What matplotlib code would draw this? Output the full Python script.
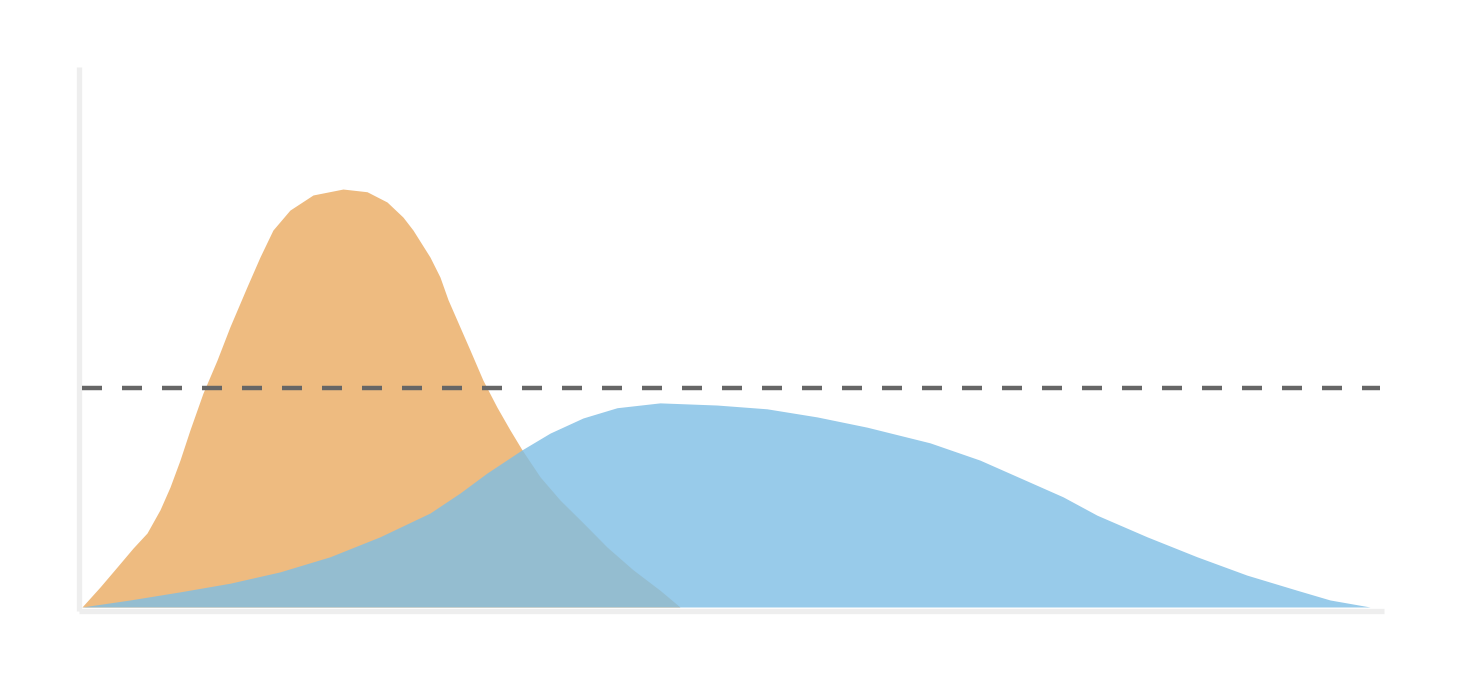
import matplotlib
matplotlib.use("Agg")
import matplotlib.pyplot as plt

# Uncontrolled outbreak (orange) – days vs. cases (% of axis height)
orange_days = [0, 1.39, 2.70, 3.93, 5.01, 6.01, 6.78, 7.55, 8.32, 9.32, 10.40, 11.40,
               12.71, 13.71, 14.71, 16.02, 17.80, 20.11, 21.96, 23.50, 24.73, 25.50,
               26.81, 27.58, 28.20, 28.89, 29.89, 30.89, 31.97, 32.97, 33.90, 35.29,
               36.83, 38.60, 40.45, 42.45, 44.53, 46.07]
orange_cases = [0, 3.7, 7.4, 10.9, 13.7, 18.0, 22.2, 27.2, 32.8, 39.6, 45.7, 51.9,
                59.3, 64.8, 69.8, 73.5, 76.3, 77.4, 76.9, 75.0, 72.2, 69.8,
                64.8, 61.1, 56.9, 53.1, 47.6, 42.0, 37.0, 32.8, 29.1, 24.1,
                19.8, 15.6, 11.1, 6.9, 3.1, 0]

# Flattened curve (blue)
blue_days = [0, 3.70, 7.55, 11.40, 15.25, 19.11, 22.96, 26.81, 29.12, 31.20, 33.90,
             36.06, 38.60, 41.22, 44.53, 48.92, 52.77, 56.63, 60.48, 65.33, 69.18,
             73.04, 75.58, 78.20, 82.05, 85.90, 89.75, 93.61, 96.15, 99.23]
blue_cases = [0, 1.3, 2.8, 4.4, 6.5, 9.3, 13.0, 17.4, 21.1, 24.8, 29.1,
              32.2, 35.0, 36.9, 37.8, 37.4, 36.7, 35.2, 33.3, 30.4, 27.2,
              23.1, 20.4, 17.0, 13.0, 9.3, 5.9, 3.1, 1.3, 0]

capacity = 40.6
capacity_span = [0, 100]

W, H = 1460, 700
fig = plt.figure(figsize=(W / 100, H / 100), dpi=100)
ax = fig.add_axes([79 / W, (H - 610.5) / H, (1384 - 79) / W, (610.5 - 67) / H])

ax.fill_between(orange_days, orange_cases, 0, color="#EEBB80", linewidth=0, zorder=1)
ax.fill_between(blue_days, blue_cases, 0, color="#7EBEE5", alpha=0.8, linewidth=0, zorder=2)

ax.plot(capacity_span, [capacity, capacity], color="#666666", linewidth=3.2,
        dashes=(4.5, 4.5), solid_capstyle="butt", dash_capstyle="butt", zorder=3)

ax.set_xlim(-0.23, 100.31)
ax.set_ylim(-0.65, 100)
ax.set_xticks([])
ax.set_yticks([])
for s in ("top", "right"):
    ax.spines[s].set_visible(False)
for s in ("left", "bottom"):
    ax.spines[s].set_color("#EEEEEE")
    ax.spines[s].set_linewidth(3.8)
    ax.spines[s].set_capstyle("butt")

fig.savefig("out.png", dpi=100, facecolor="white")
